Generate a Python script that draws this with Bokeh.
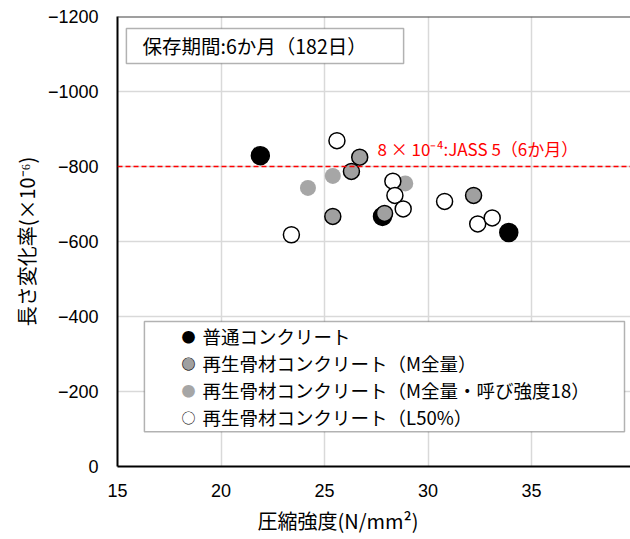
from bokeh.plotting import figure
from bokeh.models import Range1d, Span, Label, BoxAnnotation, FixedTicker, Title
from bokeh.embed import file_html
from bokeh.resources import INLINE

# ---- data ----
normal_x = [21.9, 27.8, 33.9]
normal_y = [-829, -667, -624]
m_x = [26.7, 26.3, 25.4, 27.9, 32.2]
m_y = [-825, -787, -667, -675, -723]
m18_x = [24.2, 25.4, 28.9]
m18_y = [-743, -775, -755]
l50_x = [25.6, 23.4, 28.3, 28.4, 28.8, 30.8, 32.4, 33.1]
l50_y = [-869, -618, -761, -723, -687, -707, -647, -663]
jass_limit = -800

x_ticks = [15, 20, 25, 30, 35, 40]
y_ticks = [0, -200, -400, -600, -800, -1000, -1200]

legend_labels = ["普通コンクリート", "再生骨材コンクリート（M全量）",
                 "再生骨材コンクリート（M全量・呼び強度18）", "再生骨材コンクリート（L50%）"]
title_text = "保存期間:6か月（182日）"
jass_text = "8 × 10⁻⁴:JASS 5（6か月）"

JP = "Noto Sans CJK JP"

p = figure(width=630, height=539, output_backend="svg", toolbar_location=None,
           x_range=Range1d(15, 39.78), y_range=Range1d(0, -1200),
           min_border_left=117, min_border_right=0, min_border_top=16, min_border_bottom=73,
           background_fill_color="white", border_fill_color="white")
p.outline_line_color = None

p.xaxis.ticker = FixedTicker(ticks=x_ticks)
p.yaxis.ticker = FixedTicker(ticks=y_ticks)
p.yaxis.major_label_overrides = {t: (str(t).replace("-", "\u2212")) for t in y_ticks}
for ax in (p.xaxis, p.yaxis):
    ax.major_tick_line_color = None
    ax.minor_tick_line_color = None
    ax.major_tick_out = 0
    ax.major_tick_in = 0
    ax.axis_line_color = "black"
    ax.axis_line_width = 2
    ax.major_label_text_font = "Liberation Sans"
    ax.major_label_text_font_size = "18px"
    ax.major_label_text_color = "black"
p.xaxis.major_label_standoff = 17
p.yaxis.major_label_standoff = 19

p.yaxis.axis_label = "長さ変化率(×10⁻⁶)"
p.yaxis.axis_label_text_font = JP
p.yaxis.axis_label_text_font_size = "20px"
p.yaxis.axis_label_text_font_style = "normal"
p.yaxis.axis_label_text_color = "black"
p.yaxis.axis_label_standoff = 4

p.grid.grid_line_color = "#d9d9d9"
p.grid.grid_line_width = 1.5

# top frame line
p.add_layout(Span(location=-1200, dimension="width", line_color="#404040", line_width=2))

# JASS limit line
p.add_layout(Span(location=jass_limit, dimension="width", line_color="#ff0000",
                  line_width=1.5, line_dash="5 3"))
p.add_layout(Label(x=27.56, y=jass_limit, y_offset=6, text=jass_text, text_color="#ff0000",
                   text_font=JP, text_font_size="17px", text_baseline="bottom"))

# points
p.scatter(normal_x, normal_y, size=18, fill_color="black", line_color="black", line_width=1.5)
p.scatter(m18_x, m18_y, size=16, fill_color="#a6a6a6", line_color=None)
p.scatter(m_x, m_y, size=16, fill_color="#a0a0a0", line_color="black", line_width=1.5)
p.scatter(l50_x, l50_y, size=16, fill_color="white", line_color="black", line_width=1.5)

# title box
p.add_layout(BoxAnnotation(left=15.43, right=28.82, top=-1168, bottom=-1075,
                           fill_color="white", fill_alpha=1, line_color="black", line_width=1.5))
p.add_layout(Label(x=16.21, y=-1122, text=title_text, text_font=JP, text_font_size="19.5px",
                   text_baseline="middle", text_color="black"))

# legend box
p.add_layout(BoxAnnotation(left=16.30, right=39.49, top=-387, bottom=-93,
                           fill_color="white", fill_alpha=1, line_color="black", line_width=1.5))
row_y = [-349, -275, -203, -131]
sym_colors = ["black", "#a0a0a0", "#a6a6a6", None]
for i, (lab, yy) in enumerate(zip(legend_labels, row_y)):
    if i == 3:
        p.add_layout(Label(x=18.43, y=yy, text="○", text_font=JP, text_font_size="14px",
                           text_align="center", text_baseline="middle", text_color="black"))
    else:
        p.add_layout(Label(x=18.43, y=yy, text="●", text_font=JP, text_font_size="14px",
                           text_align="center", text_baseline="middle", text_color=sym_colors[i]))
        if i == 1:
            p.add_layout(Label(x=18.43, y=yy, text="○", text_font=JP, text_font_size="14px",
                               text_align="center", text_baseline="middle", text_color="black"))
    p.add_layout(Label(x=19.11, y=yy, text=lab, text_font=JP, text_font_size="18.5px",
                       text_baseline="middle", text_color="black"))

# x axis title
xt = Title(text="圧縮強度(N/mm²)", text_font=JP, text_font_size="20px", text_font_style="normal",
           text_color="black", align="left", offset=140, standoff=9)
p.add_layout(xt, "below")

open("out.html", "w").write(file_html(p, INLINE))
